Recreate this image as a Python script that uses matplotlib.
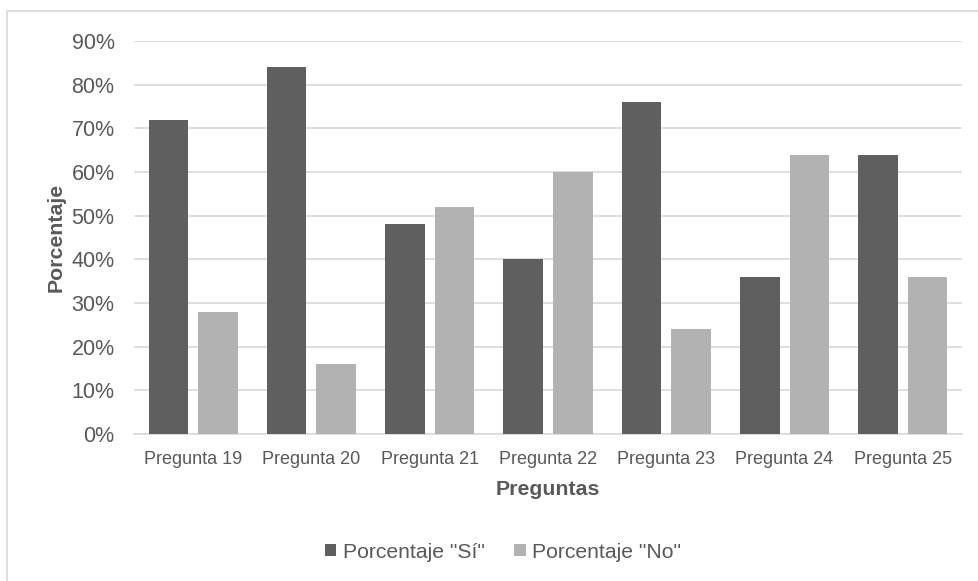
import matplotlib
matplotlib.use("Agg")
import matplotlib.pyplot as plt
from matplotlib.patches import Rectangle
from matplotlib.ticker import PercentFormatter
import numpy as np

PREGUNTAS = ["Pregunta 19", "Pregunta 20", "Pregunta 21", "Pregunta 22",
             "Pregunta 23", "Pregunta 24", "Pregunta 25"]
SI = [72, 84, 48, 40, 76, 36, 64]
NO = [28, 16, 52, 60, 24, 64, 36]

TEXT = "#595959"
GRID = "#d9d9d9"

plt.rcParams["font.family"] = ["Liberation Sans", "DejaVu Sans"]

fig = plt.figure(figsize=(9.79, 5.81), dpi=100)
ax = fig.add_axes([0.1369, 0.253, 0.8457, 0.6764])

x = np.arange(len(PREGUNTAS))
w = 0.335
ax.bar(x - 0.21, SI, w, color="#5f5f5f", label='Porcentaje "Sí"', zorder=3)
ax.bar(x + 0.21, NO, w, color="#b2b2b2", label='Porcentaje "No"', zorder=3)

ax.set_xlim(-0.5, len(PREGUNTAS) - 0.5)
ax.set_ylim(0, 90)
ax.set_yticks(range(0, 91, 10))
ax.yaxis.set_major_formatter(PercentFormatter(decimals=0))
ax.set_xticks(x)
ax.set_xticklabels(PREGUNTAS)
ax.grid(axis="y", color=GRID, linewidth=1.2, zorder=0)

for s in ["top", "right", "left"]:
    ax.spines[s].set_visible(False)
ax.spines["bottom"].set_color(GRID)
ax.spines["bottom"].set_linewidth(1.2)
ax.tick_params(length=0, colors=TEXT)
ax.tick_params(axis="x", labelsize=13, pad=12)
ax.tick_params(axis="y", labelsize=15.5, pad=14)

ax.set_xlabel("Preguntas", fontsize=15.3, fontweight="bold", color=TEXT, labelpad=9)
ax.set_ylabel("Porcentaje", fontsize=15.3, fontweight="bold", color=TEXT, labelpad=4)

fig.legend(loc="center", bbox_to_anchor=(503 / 979, 1 - 552 / 581), ncol=2,
           frameon=False, fontsize=15.2, labelcolor=TEXT, handlelength=0.55,
           handleheight=0.55, handletextpad=0.3, columnspacing=1.4)

# light frame round the whole chart
fig.patches.append(Rectangle((7 / 979, -0.1), 1.1, 1.1 - 11 / 581,
                             transform=fig.transFigure, fill=False,
                             edgecolor=GRID, linewidth=1.2))

fig.savefig("out.png", dpi=100)
